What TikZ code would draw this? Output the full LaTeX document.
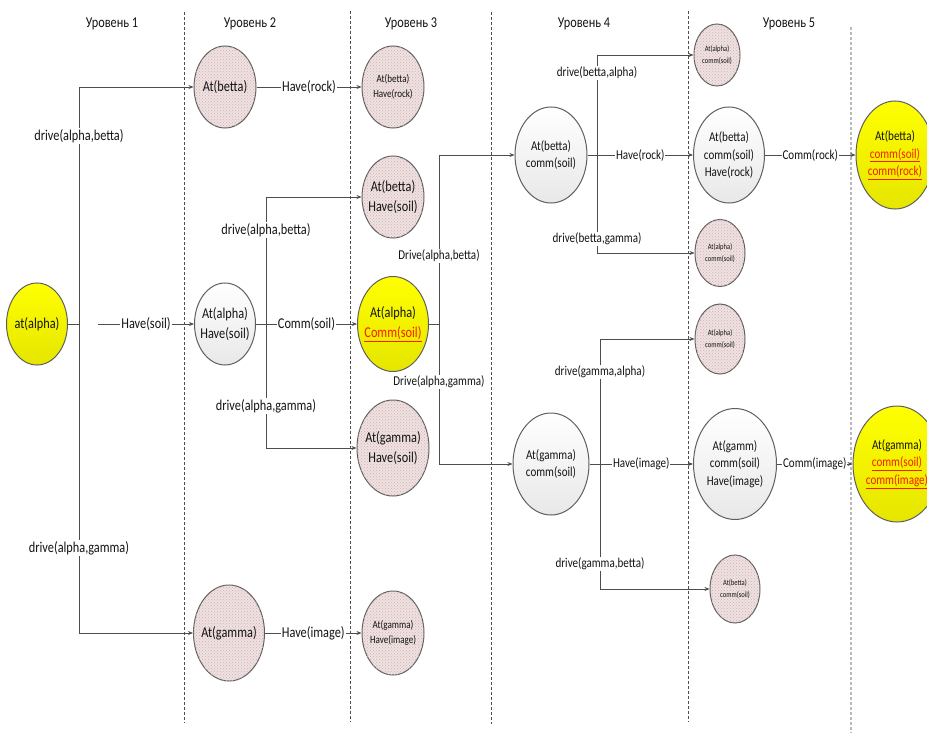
\documentclass[tikz,border=0pt]{standalone}
\usepackage{fontspec}
\setmainfont{Carlito}[FakeStretch=0.82]
\usepackage{tikz}
\usetikzlibrary{arrows.meta,shapes.geometric,patterns,positioning}
\definecolor{ink}{HTML}{141414}
\definecolor{linegrey}{HTML}{4D4D4D}
\definecolor{hatch}{HTML}{EEE2E2}
\definecolor{hatchdot}{HTML}{D6AEAE}
\definecolor{hlred}{HTML}{FF1A00}
\newcommand\fA{\fontsize{15}{20.5}\selectfont}
\newcommand\fB{\fontsize{13.5}{17.7}\selectfont}
\newcommand\fC{\fontsize{11}{15}\selectfont}
\newcommand\fD{\fontsize{8}{11.5}\selectfont}
\newcommand\redu[1]{\textcolor{hlred}{\underline{#1}}}

\begin{document}
\begin{tikzpicture}[x=1pt,y=-1pt,
  state/.style={ellipse, draw=linegrey!90, line width=1pt, inner xsep=-6pt, inner ysep=-6pt, align=center, text=ink, font=\fA},
  pinkst/.style={state, fill=hatch, postaction={pattern=crosshatch dots, pattern color=hatchdot}},
  yellowst/.style={state, top color=yellow, bottom color=yellow!90!black},
  whitest/.style={state, top color=white, bottom color=gray!18},
  lbl/.style={fill=white, inner sep=1pt, text=ink, font=\fA},
  wire/.style={draw=linegrey, line width=0.9pt},
  arr/.style={wire, -{Stealth[length=5pt,width=4pt]}},
  divider/.style={draw=linegrey, line width=0.7pt, densely dashed}]
\useasboundingbox (0,0) rectangle (927,733);

\foreach \x/\t/\b in {184/12/723, 350/11/722, 491/12/724, 688/11/722}
  \draw[divider] (\x,\t) -- (\x,\b);
\draw[divider, draw=gray!55, line width=1.6pt] (851,27) -- (851,733);

\foreach \i/\x in {1/112,2/250,3/411,4/584,5/789}
  \node[text=ink, font=\fA] (lev\i) at (\x,24) {Уровень \i};

\node[yellowst, minimum width=61pt, minimum height=82pt] (a1) at (37,324) {at(alpha)};
\node[pinkst, minimum width=62pt, minimum height=82pt] (b2) at (225,87) {At(betta)};
\node[whitest, minimum width=61pt, minimum height=82pt] (ah2) at (225,324) {At(alpha)\\Have(soil)};
\node[pinkst, minimum width=71pt, minimum height=96pt] (g2) at (229,633) {At(gamma)};

\node[pinkst, minimum width=62pt, minimum height=82pt, font=\fC] (bhr3) at (393,87) {At(betta)\\Have(rock)};
\node[pinkst, minimum width=62pt, minimum height=82pt] (bhs3) at (393,197) {At(betta)\\Have(soil)};
\node[yellowst, minimum width=71pt, minimum height=95pt] (ac3) at (393,324) {At(alpha)\\\redu{Comm(soil)}};
\node[pinkst, minimum width=72pt, minimum height=96pt] (ghs3) at (393,448) {At(gamma)\\Have(soil)};
\node[pinkst, minimum width=62pt, minimum height=84pt, font=\fC] (ghi3) at (393,633) {At(gamma)\\Have(image)};

\node[whitest, minimum width=72pt, minimum height=96pt, font=\fB] (bc4) at (551,155) {At(betta)\\comm(soil)};
\node[whitest, minimum width=76pt, minimum height=102pt, font=\fB] (gc4) at (551,464) {At(gamma)\\comm(soil)};

\node[pinkst, minimum width=46pt, minimum height=62pt, font=\fD] (ac5a) at (717,55) {At(alpha)\\comm(soil)};
\node[whitest, minimum width=71pt, minimum height=96pt, font=\fB] (bcr5) at (729,155) {At(betta)\\comm(soil)\\Have(rock)};
\node[pinkst, minimum width=50pt, minimum height=67pt, font=\fD] (ac5b) at (720,253) {At(alpha)\\comm(soil)};
\node[pinkst, minimum width=50pt, minimum height=70pt, font=\fD] (ac5c) at (720,339) {At(alpha)\\comm(soil)};
\node[whitest, minimum width=83pt, minimum height=111pt, font=\fB] (gci5) at (735,464) {At(gamm)\\comm(soil)\\Have(image)};
\node[pinkst, minimum width=50pt, minimum height=68pt, font=\fD] (bc5) at (735,589) {At(betta)\\comm(soil)};

\node[yellowst, minimum width=78pt, minimum height=108pt, font=\fB] (bfin) at (895,155) {At(betta)\\\redu{comm(soil)}\\\redu{comm(rock)}};
\node[yellowst, minimum width=88pt, minimum height=116pt, font=\fB] (gfin) at (897,464) {At(gamma)\\\redu{comm(soil)}\\\redu{comm(image)}};

\coordinate (J1) at (79,324);
\coordinate (H1) at (98,324);
\draw[wire] (a1) -- (J1);
\draw[arr] (J1) |- (b2);
\draw[arr] (J1) |- (g2);
\draw[arr] (H1) -- (ah2) node[lbl, midway] (hs1) {Have(soil)};
\node[lbl] (d1) at (79,136) {drive(alpha,betta)};
\node[lbl] (d2) at (79,548) {drive(alpha,gamma)};

\coordinate (J2) at (266,324);
\draw[arr] (b2) -- (bhr3) node[lbl, midway] (hr2) {Have(rock)};
\draw[arr] (ah2) -- (ac3) node[lbl, midway] (cs2) {Comm(soil)};
\draw[arr] (g2) -- (ghi3) node[lbl, midway] (hi2) {Have(image)};
\draw[arr] (J2) |- (bhs3);
\draw[arr] (J2) |- (ghs3);
\node[lbl] (d3) at (266,230) {drive(alpha,betta)};
\node[lbl] (d4) at (266,406) {drive(alpha,gamma)};

\coordinate (J3) at (439,324);
\draw[wire] (ac3) -- (J3);
\draw[arr] (J3) |- (bc4);
\draw[arr] (J3) |- (gc4);
\node[lbl, font=\fB] (d5) at (439,256) {Drive(alpha,betta)};
\node[lbl, font=\fB] (d6) at (439,382) {Drive(alpha,gamma)};

\coordinate (J4) at (597,155);
\draw[arr] (bc4) -- (bcr5) node[lbl, midway, font=\fB] (hr4) {Have(rock)};
\draw[arr] (J4) |- (ac5a);
\draw[arr] (J4) |- (ac5b);
\node[lbl, font=\fB] (d7) at (597,73) {drive(betta,alpha)};
\node[lbl, font=\fB] (d8) at (597,239) {drive(betta,gamma)};

\coordinate (J5) at (600,464);
\draw[arr] (gc4) -- (gci5) node[lbl, midway, font=\fB] (hi4) {Have(image)};
\draw[arr] (J5) |- (ac5c);
\draw[arr] (J5) |- (bc5);
\node[lbl, font=\fB] (d9) at (600,372) {drive(gamma,alpha)};
\node[lbl, font=\fB] (d10) at (600,564) {drive(gamma,betta)};

\draw[arr] (bcr5) -- (bfin) node[lbl, midway, font=\fB] (cr5) {Comm(rock)};
\draw[arr] (gci5) -- (gfin) node[lbl, midway, font=\fB] (ci5) {Comm(image)};
\end{tikzpicture}
\end{document}
